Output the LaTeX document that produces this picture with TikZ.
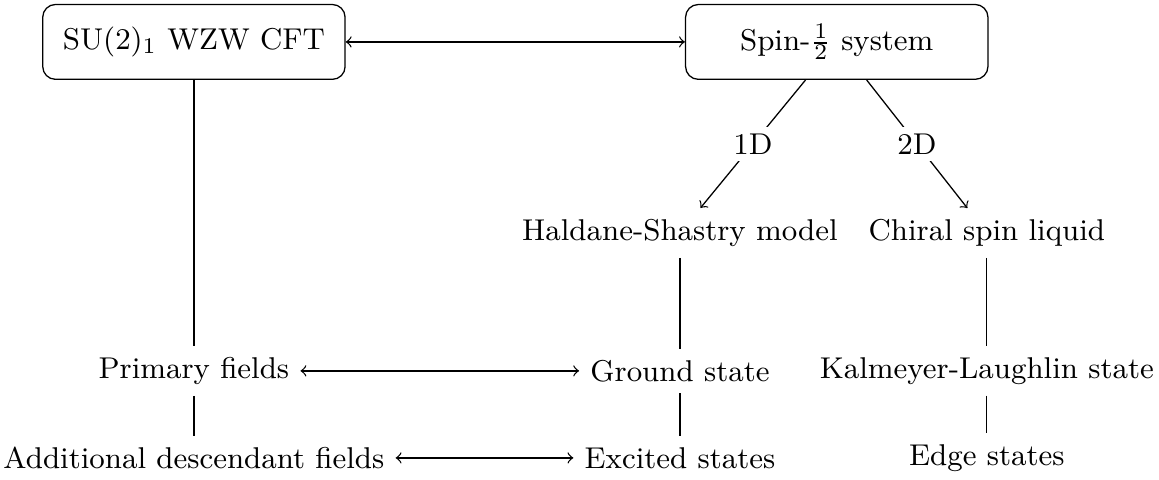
\documentclass[tikz,border=0pt]{standalone}
\usepackage{tikz}
\usetikzlibrary{positioning}

\begin{document}
\begin{tikzpicture}[on grid,font=\fontsize{9.4pt}{11pt}\selectfont,
    theory/.style={draw,rounded corners,minimum width=94.5pt,minimum height=23.4pt,align=center},
    label/.style={fill=white,inner sep=2pt}]
    \useasboundingbox (0,0) rectangle (362.2pt,-149.7pt);
    \node[theory] (cft) at (60.6pt,-13.1pt) {SU(2)$_1$ WZW CFT};
    \node[theory,right=200.9pt of cft] (spin) {Spin-$\frac{1}{2}$ system};
    \node[below=102.8pt of cft] (prim) {Primary fields};
    \node[below=27.2pt of prim] (desc) {Additional descendant fields};
    \node[right=151.9pt of prim] (gs) {Ground state};
    \node[right=151.9pt of desc] (exc) {Excited states};
    \node[right=95.9pt of gs] (kl) {Kalmeyer-Laughlin state};
    \node[right=95.9pt of exc] (edge) {Edge states};
    \node[above=43.1pt of gs] (hs) {Haldane-Shastry model};
    \node[above=43.1pt of kl] (csl) {Chiral spin liquid};
    \draw[<->] (cft) -- (spin);
    \draw[->] (spin) -- node[label]{1D} (hs);
    \draw[->] (spin) -- node[label]{2D} (csl);
    \draw (cft) -- (prim);
    \draw (prim) -- (desc);
    \draw (hs) -- (gs);
    \draw (gs) -- (exc);
    \draw (csl) -- (kl);
    \draw (kl) -- (edge);
    \draw[<->] (prim) -- (gs);
    \draw[<->] (desc) -- (exc);
\end{tikzpicture}
\end{document}
